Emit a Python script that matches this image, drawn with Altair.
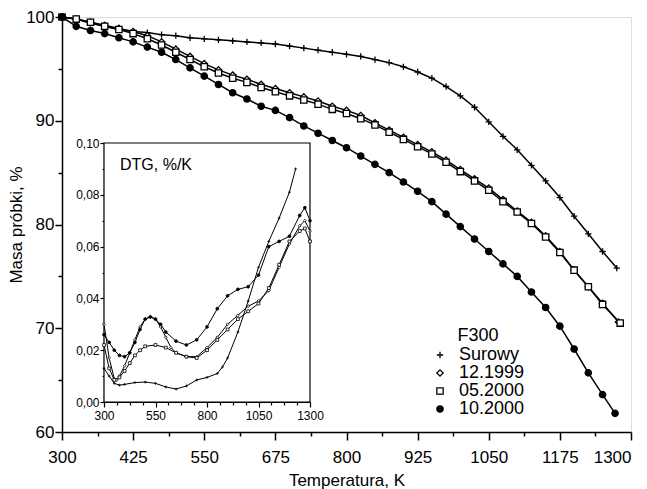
import altair as alt
import pandas as pd

series = ["Surowy", "12.1999", "05.2000", "10.2000"]

# ---- main chart: sample mass, % vs temperature, K ----
t_common = list(range(300, 1251, 25))

t_surowy = t_common + [1275]
m_surowy = [100, 99.8, 99.4, 99.1, 98.8, 98.6, 98.5, 98.3, 98.2, 98.0,
            97.9, 97.8, 97.7, 97.6, 97.5, 97.4, 97.2, 97.0, 96.8, 96.6,
            96.4, 96.2, 95.9, 95.6, 95.2, 94.7, 94.1, 93.3, 92.4, 91.3,
            89.9, 88.5, 87.2, 85.7, 84.2, 82.6, 80.8, 79.1, 77.4, 75.8]

t_1299 = t_common + [1278]
m_1299 = [100, 99.8, 99.5, 99.2, 98.9, 98.6, 98.2, 97.6, 96.9, 96.2,
          95.5, 94.9, 94.4, 94.0, 93.5, 93.1, 92.7, 92.3, 91.9, 91.4,
          91.0, 90.5, 89.8, 89.1, 88.4, 87.7, 87.0, 86.2, 85.3, 84.4,
          83.5, 82.4, 81.3, 80.2, 78.9, 77.4, 75.6, 74.0, 72.4, 70.6]

t_0500 = t_common + [1281]
m_0500 = [100, 99.8, 99.5, 99.1, 98.8, 98.4, 97.9, 97.3, 96.6, 95.9,
          95.2, 94.6, 94.1, 93.7, 93.2, 92.8, 92.4, 92.0, 91.6, 91.1,
          90.7, 90.2, 89.6, 88.9, 88.2, 87.5, 86.8, 86.0, 85.1, 84.2,
          83.3, 82.2, 81.2, 80.1, 78.8, 77.3, 75.6, 74.0, 72.3, 70.5]

t_1000 = t_common + [1272]
m_1000 = [100, 99.1, 98.7, 98.4, 98.0, 97.6, 97.1, 96.6, 95.9, 95.1,
          94.3, 93.5, 92.7, 92.1, 91.4, 91.0, 90.3, 89.5, 88.8, 88.1,
          87.4, 86.6, 85.8, 85.0, 84.1, 83.2, 82.2, 81.0, 79.8, 78.6,
          77.4, 76.2, 75.0, 73.5, 72.0, 70.2, 68.0, 65.7, 63.6, 61.8]

# ---- inset: DTG, %/K ----
ti_surowy = [300, 325, 350, 375, 400, 450, 500, 550, 600, 650, 700, 750, 800,
             850, 875, 900, 950, 1000, 1050, 1100, 1150, 1200, 1230]
d_surowy = [0.013, 0.010, 0.0072, 0.0065, 0.0068, 0.0075, 0.0077, 0.0072, 0.0058,
            0.0050, 0.0062, 0.0085, 0.0095, 0.011, 0.0135, 0.017, 0.027, 0.039,
            0.052, 0.062, 0.071, 0.081, 0.090]

ti_1299 = [300, 325, 350, 362, 375, 400, 425, 450, 475, 500, 525, 550, 575, 600,
           625, 650, 700, 750, 800, 850, 900, 950, 1000, 1050, 1100, 1150, 1200,
           1250, 1275, 1300]
d_1299 = [0.030, 0.017, 0.009, 0.0085, 0.010, 0.014, 0.019, 0.024, 0.029, 0.032,
          0.033, 0.032, 0.029, 0.025, 0.021, 0.019, 0.0175, 0.0175, 0.021, 0.025,
          0.030, 0.0335, 0.037, 0.039, 0.043, 0.052, 0.061, 0.068, 0.070, 0.066]

ti_0500 = [300, 325, 350, 375, 400, 425, 450, 475, 500, 550, 600, 650, 700, 750,
           800, 850, 900, 950, 1000, 1050, 1100, 1150, 1200, 1250, 1275, 1300]
d_0500 = [0.022, 0.013, 0.0085, 0.0095, 0.012, 0.015, 0.018, 0.020, 0.0215, 0.022,
          0.021, 0.019, 0.0175, 0.017, 0.020, 0.024, 0.028, 0.032, 0.035, 0.038,
          0.044, 0.053, 0.062, 0.066, 0.067, 0.062]

ti_1000 = [300, 325, 350, 375, 400, 425, 450, 475, 500, 525, 550, 575, 600, 650,
           700, 750, 800, 850, 900, 950, 1000, 1050, 1100, 1150, 1200, 1250, 1275, 1300]
d_1000 = [0.026, 0.023, 0.020, 0.018, 0.0175, 0.019, 0.023, 0.028, 0.032, 0.0328,
          0.032, 0.030, 0.027, 0.0235, 0.022, 0.024, 0.029, 0.036, 0.041, 0.0435,
          0.0445, 0.049, 0.060, 0.062, 0.064, 0.072, 0.075, 0.070]


def frame(ts, vals, name):
    return pd.DataFrame({"T": ts, "v": vals, "series": name})


main_df = pd.concat([
    frame(t_surowy, m_surowy, "Surowy"),
    frame(t_1299, m_1299, "12.1999"),
    frame(t_0500, m_0500, "05.2000"),
    frame(t_1000, m_1000, "10.2000"),
], ignore_index=True)

inset_df = pd.concat([
    frame(ti_surowy, d_surowy, "Surowy"),
    frame(ti_1299, d_1299, "12.1999"),
    frame(ti_0500, d_0500, "05.2000"),
    frame(ti_1000, d_1000, "10.2000"),
], ignore_index=True)

FONT = "Liberation Sans"
plus_path = "M-1,0L1,0M0,-1L0,1"
shape_scale = alt.Scale(domain=series, range=[plus_path, "diamond", "square", "circle"])
fill_scale = alt.Scale(domain=series, range=["black", "white", "white", "black"])
stroke_scale = alt.Scale(domain=series, range=["black", "black", "black", "black"])

legend = alt.Legend(
    title="F300", orient="none", legendX=369, legendY=310,
    titleFontSize=18, labelFontSize=18, titleFont=FONT, labelFont=FONT,
    titleFontWeight="normal", titleColor="black", labelColor="black",
    titleAnchor="middle",
    symbolSize=40, symbolStrokeColor="black", symbolStrokeWidth=1.3,
    rowPadding=0, titlePadding=1, labelOffset=10, symbolOffset=0,
)

x_vals = [300 + 62.5 * i for i in range(17)]
y_vals = [60 + 5 * i for i in range(9)]

x_main = alt.X(
    "T:Q",
    scale=alt.Scale(domain=[300, 1300], nice=False, zero=False),
    axis=alt.Axis(
        values=x_vals,
        labelExpr="(datum.value-300)%125===0 ? format(datum.value,'d') : ''",
        labelAlign={"condition": {"test": "datum.value===1300", "value": "right"}, "value": "center"},
        tickSize={"condition": {"test": "(datum.value-300)%125!==0", "value": 4}, "value": 8},
        title="Temperatura, K", titleFontSize=17, titleFontWeight="normal",
        labelFontSize=17, labelFont=FONT, titleFont=FONT, labelColor="black",
        titleColor="black", domainColor="black", domainWidth=1.5, tickColor="black",
        tickWidth=1.5, grid=False, labelPadding=9, titlePadding=7,
        labelFlush=False, labelOverlap=False,
    ),
)
y_main = alt.Y(
    "v:Q",
    scale=alt.Scale(domain=[60, 100], nice=False, zero=False),
    axis=alt.Axis(
        values=y_vals,
        labelExpr="datum.value%10===0 ? format(datum.value,'d') : ''",
        tickSize={"condition": {"test": "datum.value%10!==0", "value": 4}, "value": 7},
        title="Masa próbki, %", titleFontSize=17, titleFontWeight="normal",
        labelFontSize=17, labelFont=FONT, titleFont=FONT, labelColor="black",
        titleColor="black", domainColor="black", domainWidth=1.5, tickColor="black",
        tickWidth=1.5, grid=False, labelPadding=1, titlePadding=0,
        labelFlush=False, labelOverlap=False,
    ),
)

main_base = alt.Chart(main_df).encode(x=x_main, y=y_main)
main_lines = main_base.mark_line(color="black", strokeWidth=1.5).encode(detail="series:N")
main_points = main_base.mark_point(
    size=40, filled=True, strokeWidth=1.3, opacity=1
).encode(
    shape=alt.Shape("series:N", scale=shape_scale, legend=legend),
    fill=alt.Fill("series:N", scale=fill_scale, legend=legend),
    stroke=alt.Stroke("series:N", scale=stroke_scale, legend=legend),
)
main_layer = alt.layer(main_lines, main_points)

# inset scales (explicit pixel range inside the main view)
x_in_scale = alt.Scale(domain=[300, 1300], range=[42, 248], nice=False, zero=False)
y_in_scale = alt.Scale(domain=[0, 0.1], range=[385, 126], nice=False, zero=False)

x_in_axis = alt.Axis(
    orient="bottom", offset=-30, values=x_vals,
    labelExpr="(datum.value-300)%250===0 ? format(datum.value,'d') : ''",
    tickSize={"condition": {"test": "(datum.value-300)%250!==0", "value": 3}, "value": 5},
    title=None, labelFontSize=12, labelFont=FONT, labelColor="black",
    domainColor="black", domainWidth=1.2, tickColor="black", tickWidth=1.2,
    grid=False, labelPadding=3, labelFlush=False, labelOverlap=False,
)
y_in_axis = alt.Axis(
    orient="left", offset=-42, values=[0.01 * i for i in range(11)],
    labelExpr="round(datum.value*100)%2===0 ? replace(format(datum.value,'.2f'),'.',',') : ''",
    tickSize={"condition": {"test": "round(datum.value*100)%2!==0", "value": 2}, "value": 4},
    title=None, labelFontSize=12, labelFont=FONT, labelColor="black",
    domainColor="black", domainWidth=1.2, tickColor="black", tickWidth=1.2,
    grid=False, labelPadding=1, labelFlush=False, labelOverlap=False,
)

box_df = pd.DataFrame({"x0": [300], "x1": [1300], "y0": [0.0], "y1": [0.1]})
inset_box = alt.Chart(box_df).mark_rect(fill="white", stroke="black", strokeWidth=1.2).encode(
    x=alt.X("x0:Q", scale=x_in_scale, axis=x_in_axis),
    x2="x1:Q",
    y=alt.Y("y0:Q", scale=y_in_scale, axis=y_in_axis),
    y2="y1:Q",
)
inset_base = alt.Chart(inset_df).encode(
    x=alt.X("T:Q", scale=x_in_scale, axis=x_in_axis),
    y=alt.Y("v:Q", scale=y_in_scale, axis=y_in_axis),
)
inset_lines = inset_base.mark_line(color="black", strokeWidth=1.0).encode(detail="series:N")
inset_points = inset_base.mark_point(
    size=8, filled=True, strokeWidth=0.8, opacity=1
).encode(
    shape=alt.Shape("series:N", scale=shape_scale, legend=None),
    fill=alt.Fill("series:N", scale=fill_scale, legend=None),
    stroke=alt.Stroke("series:N", scale=stroke_scale, legend=None),
)
inset_label = alt.Chart(box_df).mark_text(
    text="DTG, %/K", align="left", baseline="alphabetic", fontSize=16, font=FONT, color="black"
).encode(x=alt.value(58), y=alt.value(153))

inset_layer = alt.layer(inset_box, inset_lines, inset_points, inset_label)

chart = alt.layer(main_layer, inset_layer).resolve_scale(
    x="independent", y="independent"
).properties(
    width=569, height=415,
    autosize=alt.AutoSizeParams(type="none"),
    padding={"left": 54, "top": 9, "right": 8, "bottom": 57},
).configure_view(
    stroke="black", strokeWidth=1.5
).configure(
    font=FONT, background="white"
)

chart.save("out.html", embed_options={"renderer": "svg", "actions": False})
